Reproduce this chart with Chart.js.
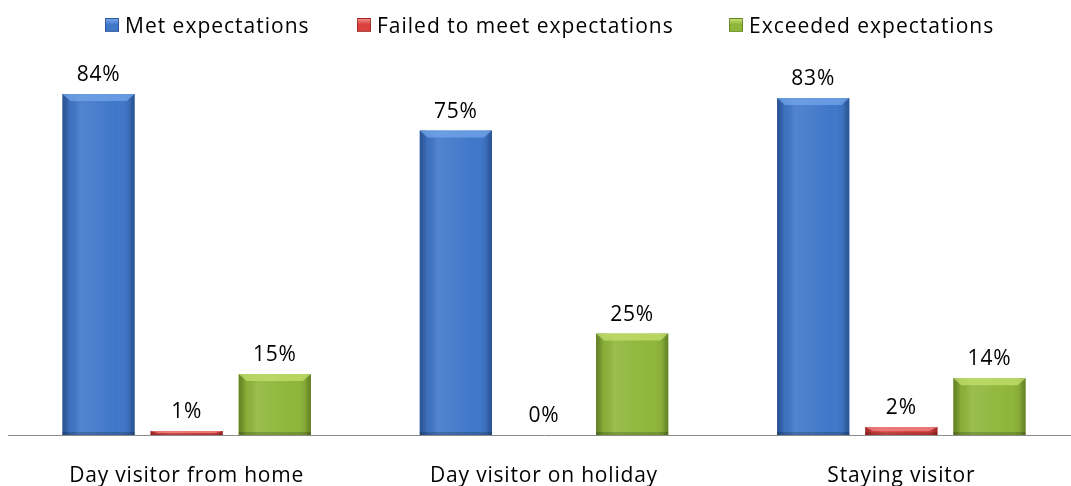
<!DOCTYPE html>
<html>
<head>
<meta charset="utf-8">
<script src="https://cdn.jsdelivr.net/npm/chart.js@4/dist/chart.umd.min.js"></script>
<style>
  html, body { margin: 0; padding: 0; background: #fff; overflow: hidden; }
  #wrap { position: relative; width: 1071px; height: 486px; overflow: hidden; }
  #c { position: absolute; left: 0; top: 0; }
  .lg { position: absolute; top: 12px; height: 26px; display: flex; align-items: center;
        font-family: "Open Sans", "DejaVu Sans", sans-serif; font-size: 21px; letter-spacing: 1px; color: #000; white-space: nowrap; }
  .lg i { display: inline-block; width: 14px; height: 14px; margin-right: 6px; box-sizing: border-box; }
</style>
</head>
<body>
<div id="wrap">
  <canvas id="c" width="1080" height="486"></canvas>
  <div id="legend"></div>
</div>
<script>
const categories = ['Day visitor from home', 'Day visitor on holiday', 'Staying visitor'];
const seriesNames = ['Met expectations', 'Failed to meet expectations', 'Exceeded expectations'];
const metValues = [84, 75, 83];
const failedValues = [1, 0, 2];
const exceededValues = [15, 25, 14];

const FONT = '"Open Sans", "DejaVu Sans", sans-serif';
const SPACING = '0.8px';

const palette = [
  { base: '#3f77c9', top: '#74a6ea', edge: 'rgba(20,40,90,0.45)' },
  { base: '#d9413f', top: '#ef8a86', edge: 'rgba(90,10,10,0.45)' },
  { base: '#8fb63a', top: '#c4e06e', edge: 'rgba(50,70,10,0.45)' }
];
const legendLefts = [105, 357, 729];

// HTML legend (real text)
const legendEl = document.getElementById('legend');
seriesNames.forEach((name, i) => {
  const d = document.createElement('div');
  d.className = 'lg';
  d.style.left = legendLefts[i] + 'px';
  const sw = document.createElement('i');
  sw.style.background = 'linear-gradient(180deg,' + palette[i].top + ' 0%,' + palette[i].base + ' 45%,' + palette[i].base + ' 100%)';
  sw.style.border = '1px solid ' + palette[i].edge;
  d.appendChild(sw);
  d.appendChild(document.createTextNode(name));
  legendEl.appendChild(d);
});

const spacingPlugin = {
  id: 'spacing',
  beforeLayout(chart) { chart.ctx.letterSpacing = SPACING; },
  beforeDraw(chart) { chart.ctx.letterSpacing = SPACING; }
};

const bevelPlugin = {
  id: 'bevel',
  afterDatasetsDraw(chart) {
    const ctx = chart.ctx;
    chart.data.datasets.forEach((ds, di) => {
      const meta = chart.getDatasetMeta(di);
      const pal = palette[di];
      meta.data.forEach(bar => {
        const w = bar.width;
        const left = bar.x - w / 2;
        const top = Math.min(bar.y, bar.base);
        const h = Math.abs(bar.base - bar.y);
        if (h < 1) return;
        ctx.save();
        const g = ctx.createLinearGradient(left, 0, left + w, 0);
        g.addColorStop(0, pal.edge);
        g.addColorStop(0.1, 'rgba(0,0,0,0.05)');
        g.addColorStop(0.25, 'rgba(255,255,255,0.10)');
        g.addColorStop(0.75, 'rgba(255,255,255,0.0)');
        g.addColorStop(0.92, 'rgba(0,0,0,0.08)');
        g.addColorStop(1, pal.edge);
        ctx.fillStyle = g;
        ctx.fillRect(left, top, w, h);
        const bh = Math.min(7, h / 2);
        const inset = Math.min(8, w / 6);
        ctx.beginPath();
        ctx.moveTo(left, top);
        ctx.lineTo(left + w, top);
        ctx.lineTo(left + w - inset, top + bh);
        ctx.lineTo(left + inset, top + bh);
        ctx.closePath();
        ctx.fillStyle = pal.top;
        ctx.globalAlpha = 0.75;
        ctx.fill();
        ctx.globalAlpha = 1;
        const bb = Math.min(3, h / 3);
        ctx.fillStyle = 'rgba(0,0,0,0.18)';
        ctx.fillRect(left, top + h - bb, w, bb);
        ctx.restore();
      });
    });
  }
};

const labelPlugin = {
  id: 'valueLabels',
  afterDatasetsDraw(chart) {
    const ctx = chart.ctx;
    ctx.save();
    ctx.letterSpacing = SPACING;
    ctx.font = '21px ' + FONT;
    ctx.fillStyle = '#000';
    ctx.textAlign = 'center';
    ctx.textBaseline = 'alphabetic';
    chart.data.datasets.forEach((ds, di) => {
      const meta = chart.getDatasetMeta(di);
      meta.data.forEach((bar, i) => {
        ctx.fillText(ds.data[i] + '%', bar.x, Math.min(bar.y, bar.base) - 13);
      });
    });
    ctx.restore();
  }
};

new Chart(document.getElementById('c'), {
  type: 'bar',
  data: {
    labels: categories,
    datasets: [
      { label: seriesNames[0], data: metValues, backgroundColor: palette[0].base },
      { label: seriesNames[1], data: failedValues, backgroundColor: palette[1].base },
      { label: seriesNames[2], data: exceededValues, backgroundColor: palette[2].base }
    ]
  },
  options: {
    responsive: false,
    animation: false,
    devicePixelRatio: 1,
    layout: { padding: { left: 8, right: 0, top: 29, bottom: 0 } },
    datasets: { bar: { categoryPercentage: 0.74, barPercentage: 0.82 } },
    plugins: {
      legend: { display: false },
      tooltip: { enabled: false }
    },
    scales: {
      x: {
        grid: { display: false },
        border: { display: true, color: '#8c8c8c', width: 1 },
        ticks: { font: { family: FONT, size: 21 }, color: '#000', padding: 20 },
        afterFit(scale) { scale.height = 51; }
      },
      y: {
        display: false,
        min: 0,
        max: 100
      }
    }
  },
  plugins: [spacingPlugin, bevelPlugin, labelPlugin]
});
</script>
</body>
</html>
